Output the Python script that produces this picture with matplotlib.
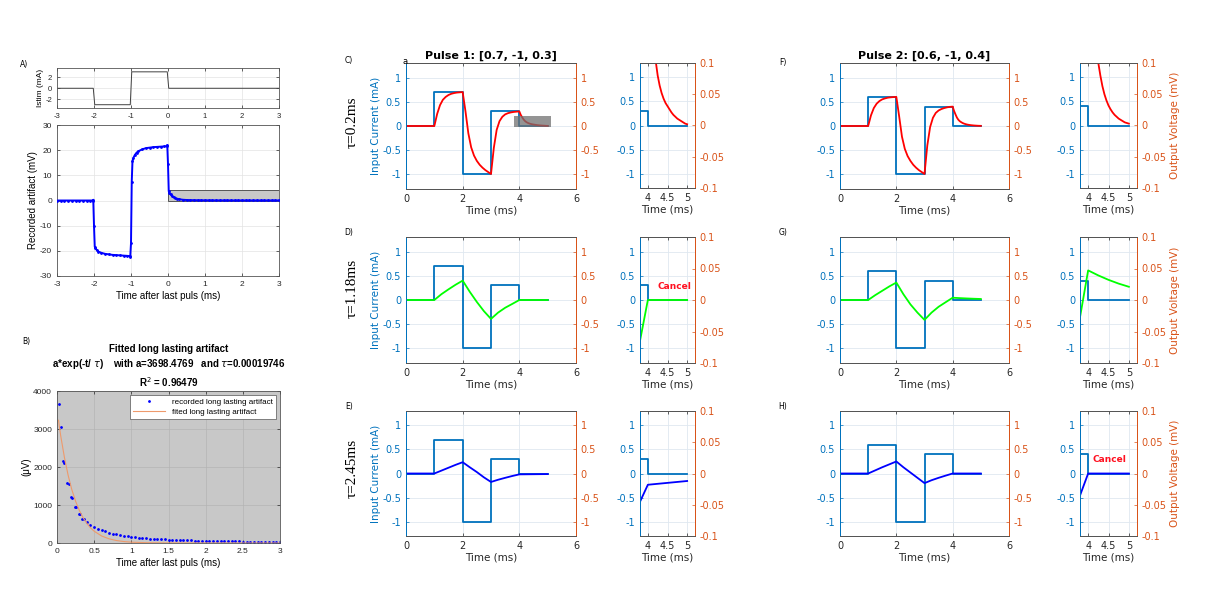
import matplotlib
matplotlib.use("Agg")
import matplotlib.pyplot as plt
from matplotlib.patches import Rectangle
from matplotlib.ticker import FuncFormatter

plt.rcParams['axes.unicode_minus'] = False

W, H = 1219, 600
BLUE = "#0072BD"
ORANGE = "#D95319"
DARK = "#262626"

# ---- panel A : stimulus + recorded artifact ----
istim_t = [-3, -2.02, -1.98, -1.02, -0.98, -0.02, 0.02, 3]
istim_v = [0, 0, -3, -3, 3, 3, 0, 0]

art_t = [-3.0, -2.9, -2.8, -2.7, -2.6, -2.5, -2.4, -2.3, -2.2, -2.1, -2.04, -2.02,
         -2.0, -1.98, -1.96, -1.92, -1.88, -1.8, -1.7, -1.6, -1.5, -1.4, -1.3, -1.2, -1.1, -1.04, -1.02,
         -1.0, -0.98, -0.96, -0.94, -0.9, -0.85, -0.8, -0.7, -0.6, -0.5, -0.4, -0.3, -0.2, -0.1, -0.04, -0.02,
         0.0, 0.02, 0.04, 0.07, 0.1, 0.15, 0.2, 0.25, 0.3, 0.4,
         0.5, 0.6, 0.7, 0.8, 0.9, 1.0, 1.1, 1.2, 1.3, 1.4, 1.5, 1.6, 1.7, 1.8, 1.9, 2.0,
         2.1, 2.2, 2.3, 2.4, 2.5, 2.6, 2.7, 2.8, 2.9, 3.0]
art_v = [0, 0, 0, 0, 0, 0, 0, 0, 0, 0, 0, 0.3,
         -10.0, -18.3, -19.0, -19.8, -20.3, -20.8, -21.2, -21.4, -21.6, -21.7, -21.8, -21.9, -22.0, -22.1, -22.3,
         -17.0, 7.5, 15.5, 16.8, 18.0, 19.0, 19.6, 20.3, 20.8, 21.0, 21.2, 21.3, 21.4, 21.5, 21.6, 22.0,
         14.5, 3.7, 3.0, 2.4, 1.9, 1.3, 0.95, 0.7, 0.5, 0.3,
         0.2, 0.15, 0.12, 0.1, 0.08, 0.07, 0.06, 0.05, 0.05, 0.04, 0.04, 0.04, 0.03, 0.03, 0.03, 0.03,
         0.03, 0.02, 0.02, 0.02, 0.02, 0.02, 0.02, 0.02, 0.02, 0.02]

# ---- panel B : long lasting artifact (uV) and its fit ----
rec_t = [0.027, 0.053, 0.08, 0.1, 0.133, 0.155, 0.186, 0.208, 0.24, 0.26, 0.29, 0.31, 0.34, 0.36,
         0.4, 0.45, 0.5, 0.55, 0.6, 0.65, 0.7, 0.75, 0.8, 0.85, 0.9, 0.95, 1.0,
         1.05, 1.1, 1.15, 1.2, 1.25, 1.3, 1.35, 1.4, 1.45, 1.5, 1.55, 1.6, 1.65, 1.7,
         1.75, 1.8, 1.85, 1.9, 1.95, 2.0, 2.05, 2.1, 2.15, 2.2, 2.25, 2.3, 2.35, 2.4,
         2.45, 2.5, 2.55, 2.6, 2.65, 2.7, 2.75, 2.8, 2.85, 2.9, 2.95, 3.0]
rec_v = [3650, 3063, 2153, 2118, 1575, 1558, 1208, 1190, 954, 936, 770, 761, 639, 620,
         540, 470, 420, 375, 340, 305, 275, 250, 228, 210, 193, 178, 165,
         153, 143, 134, 126, 118, 111, 105, 99, 94, 89, 85, 81, 77, 73,
         70, 67, 64, 61, 58, 56, 54, 52, 50, 48, 46, 44, 43, 41,
         40, 38, 37, 36, 35, 34, 33, 32, 31, 30, 29, 28]
fit_t = [0.02, 0.05, 0.1, 0.15, 0.2, 0.25, 0.3, 0.35, 0.4, 0.45, 0.5, 0.6, 0.7, 0.8,
         0.9, 1.0, 1.2, 1.4, 1.7, 2.0, 3.0]
fit_v = [3230, 2820, 2250, 1780, 1400, 1100, 860, 670, 520, 400, 310, 185, 110, 65,
         38, 22, 8, 3, 1, 0, 0]

# ---- panels C-H : input pulses and simulated output ----
pulse_t = [0, 1, 1, 2, 2, 3, 3, 4, 4, 5]
pulse1 = [0, 0, 0.7, 0.7, -1, -1, 0.3, 0.3, 0, 0]
pulse2 = [0, 0, 0.6, 0.6, -1, -1, 0.4, 0.4, 0, 0]

fast_t = [0, 1, 1.1, 1.2, 1.3, 1.4, 1.5, 1.6, 1.7, 1.8, 1.9, 2.0,
          2.1, 2.2, 2.3, 2.4, 2.5, 2.6, 2.7, 2.8, 2.9, 3.0,
          3.1, 3.2, 3.3, 3.4, 3.5, 3.6, 3.7, 3.8, 3.9, 4.0,
          4.05, 4.1, 4.15, 4.2, 4.25, 4.3, 4.35, 4.4, 4.45, 4.5,
          4.55, 4.6, 4.65, 4.7, 4.75, 4.8, 4.85, 4.9, 4.95, 5.0]
out_c = [0, 0, 0.25, 0.43, 0.54, 0.6, 0.64, 0.665, 0.68, 0.69, 0.695, 0.7,
         0.3, -0.15, -0.44, -0.61, -0.72, -0.8, -0.86, -0.91, -0.95, -0.99,
         -0.45, -0.08, 0.1, 0.19, 0.24, 0.265, 0.28, 0.29, 0.296, 0.3,
         0.23, 0.18, 0.135, 0.103, 0.08, 0.064, 0.052, 0.043, 0.036, 0.031,
         0.026, 0.021, 0.017, 0.014, 0.011, 0.009, 0.007, 0.005, 0.003, 0.002]
out_f = [0, 0, 0.22, 0.37, 0.46, 0.515, 0.55, 0.57, 0.585, 0.592, 0.597, 0.6,
         0.2, -0.22, -0.47, -0.62, -0.72, -0.8, -0.86, -0.91, -0.95, -0.99,
         -0.4, -0.02, 0.17, 0.27, 0.32, 0.35, 0.37, 0.385, 0.395, 0.4,
         0.31, 0.24, 0.175, 0.13, 0.1, 0.08, 0.063, 0.05, 0.04, 0.032,
         0.026, 0.021, 0.017, 0.014, 0.011, 0.009, 0.007, 0.005, 0.004, 0.003]

slow_t = [0, 1, 1.25, 1.5, 1.75, 2, 2.25, 2.5, 2.75, 3, 3.25, 3.5, 3.75, 4, 4.25, 4.5, 4.75, 5]
out_d = [0, 0, 0.12, 0.22, 0.315, 0.4, 0.17, -0.04, -0.23, -0.39, -0.26, -0.16, -0.081, 0, 0, 0, 0, 0]
out_e = [0, 0, 0.06, 0.12, 0.18, 0.235, 0.13, 0.03, -0.08, -0.176, -0.13, -0.09, -0.052, -0.018,
         -0.0165, -0.015, -0.0135, -0.012]
out_g = [0, 0, 0.1, 0.19, 0.28, 0.36, 0.12, -0.09, -0.26, -0.41, -0.26, -0.14, -0.046, 0.047,
         0.039, 0.032, 0.026, 0.021]
out_h = [0, 0, 0.065, 0.13, 0.19, 0.25, 0.13, 0.02, -0.09, -0.2, -0.14, -0.09, -0.044, 0, 0, 0, 0, 0]

gfmt = FuncFormatter(lambda v, p: f"{v:g}")


def rect(x0, y0, x1, y1):
    # pixel box -> figure fraction
    return [x0 / W, 1 - y1 / H, (x1 - x0) / W, (y1 - y0) / H]


def ftext(x, y, s, **kw):
    fig.text(x / W, 1 - y / H, s, **kw)


def matlab_style(ax, fs=6, family="Liberation Sans"):
    ax.tick_params(direction="in", labelsize=fs, colors=DARK, top=True, right=True,
                   length=2.5, width=0.5)
    for s in ax.spines.values():
        s.set_color("#555555")
        s.set_linewidth(0.6)
    ax.grid(True, color="#e3e3e3", linewidth=0.5)
    ax.set_axisbelow(True)
    ax.xaxis.set_major_formatter(gfmt)
    ax.yaxis.set_major_formatter(gfmt)
    for lab in ax.get_xticklabels() + ax.get_yticklabels():
        lab.set_family(family)


def yy_axes(box, xlim, xticks, rlim, rticks, fs=7):
    ax = fig.add_axes(rect(*box))
    ax2 = ax.twinx()
    ax.set_xlim(*xlim)
    ax.set_xticks(xticks)
    ax.set_ylim(-1.3, 1.3)
    ax.set_yticks([-1, -0.5, 0, 0.5, 1])
    ax2.set_ylim(*rlim)
    ax2.set_yticks(rticks)
    for a in (ax, ax2):
        a.spines["top"].set_color("#555555")
        a.spines["bottom"].set_color("#555555")
        a.spines["left"].set_color(BLUE)
        a.spines["right"].set_color(ORANGE)
        for s in a.spines.values():
            s.set_linewidth(0.7)
        a.yaxis.set_major_formatter(gfmt)
    ax.xaxis.set_major_formatter(gfmt)
    ax.tick_params(axis="x", direction="in", colors=DARK, top=True, labelsize=fs, length=2.5, width=0.5)
    ax.tick_params(axis="y", direction="in", colors=BLUE, labelsize=fs, length=2.5, width=0.5)
    ax2.tick_params(axis="y", direction="in", colors=ORANGE, labelsize=fs, length=2.5, width=0.5)
    ax.grid(True, color="#dfe8f0", linewidth=0.6)
    ax.set_axisbelow(True)
    ax.set_xlabel("Time (ms)", fontsize=7.5, color=DARK, labelpad=1)
    return ax, ax2


def draw_pair(main_box, small_box, pulse, out_t, out_v, colour, left_label, right_label, title=None):
    ax, ax2 = yy_axes(main_box, (0, 6), [0, 2, 4, 6], (-1.3, 1.3), [-1, -0.5, 0, 0.5, 1])
    ax.plot(pulse_t, pulse, color=BLUE, lw=1.3)
    ax2.plot(out_t, out_v, color=colour, lw=1.3)
    if left_label:
        ax.set_ylabel("Input Current (mA)", color=BLUE, fontsize=7.5, labelpad=1)
    if title:
        ax.set_title(title, fontsize=8, fontweight="bold", pad=3)

    sx, sx2 = yy_axes(small_box, (3.8, 5.2), [4, 4.5, 5], (-0.1, 0.1), [-0.1, -0.05, 0, 0.05, 0.1])
    sx.plot(pulse_t, pulse, color=BLUE, lw=1.3)
    sx2.plot(out_t, out_v, color=colour, lw=1.3)
    if right_label:
        sx2.set_ylabel("Output Voltage (mV)", color=ORANGE, fontsize=7.5, labelpad=2)
    return ax, ax2, sx, sx2


fig = plt.figure(figsize=(W / 100, H / 100), dpi=100)

# ---- A ----
ax_i = fig.add_axes(rect(57, 68, 279, 108))
ax_i.plot(istim_t, istim_v, color="#404040", lw=0.7)
ax_i.set_xlim(-3, 3)
ax_i.set_ylim(-3.6, 3.7)
ax_i.set_xticks(range(-3, 4))
ax_i.set_yticks([-2, 0, 2])
ax_i.set_ylabel("Istim (mA)", fontsize=6, family="Liberation Sans", labelpad=1)
matlab_style(ax_i, 5.5)

ax_a = fig.add_axes(rect(57, 125, 279, 276))
ax_a.add_patch(Rectangle((0, 0), 3, 4, facecolor="#c8c8c8", edgecolor="#555555", lw=0.7, zorder=2))
ax_a.plot(art_t, art_v, color="#0000FF", lw=1.4, marker=".", ms=2, zorder=3)
ax_a.set_xlim(-3, 3)
ax_a.set_ylim(-30, 30)
ax_a.set_xticks(range(-3, 4))
ax_a.set_yticks(range(-30, 31, 10))
ax_a.set_xlabel("Time after last puls (ms)", fontsize=7, family="Liberation Sans", labelpad=2)
ax_a.set_ylabel("Recorded artifact (mV)", fontsize=7, family="Liberation Sans", labelpad=1)
matlab_style(ax_a, 6)

# ---- B ----
ax_b = fig.add_axes(rect(57, 391, 280, 543))
ax_b.set_facecolor("#c8c8c8")
ax_b.plot(rec_t, rec_v, ".", color="#0000FF", ms=2, label="recorded long lasting artifact")
ax_b.plot(fit_t, fit_v, color="#EE9A6C", lw=0.8, label="fited long lasting artifact")
ax_b.set_xlim(0, 3)
ax_b.set_ylim(0, 4000)
ax_b.set_xticks([0, 0.5, 1, 1.5, 2, 2.5, 3])
ax_b.set_yticks(range(0, 4001, 1000))
ax_b.set_xlabel("Time after last puls (ms)", fontsize=7, family="Liberation Sans", labelpad=2)
ax_b.set_ylabel("(μV)", fontsize=7, family="Liberation Sans", labelpad=1)
ax_b.set_title("Fitted long lasting artifact\n"
               "a*exp(-t/ $\\tau$)    with a=3698.4769   and $\\tau$=0.00019746\n"
               "R$^2$ = 0.96479",
               fontsize=7, fontweight="bold", family="Liberation Sans", pad=3, linespacing=1.3)
matlab_style(ax_b, 6)
ax_b.grid(True, color="#b4b4b4", linewidth=0.5)
leg = ax_b.legend(loc="upper right", framealpha=1, edgecolor="#555555",
                  fancybox=False, handlelength=4, borderpad=0.4, labelspacing=0.3,
                  prop={"family": "Liberation Sans", "size": 5.8})
leg.get_frame().set_linewidth(0.5)

ftext(20, 65, "A)", fontsize=5.5, va="center")
ftext(22, 342, "B)", fontsize=5.5, va="center")

# ---- C-H ----
axc, axc2, sc, sc2 = draw_pair((406, 63, 576, 189), (640, 63, 695, 188), pulse1, fast_t, out_c,
                               "#FF0000", True, False, "Pulse 1: [0.7, -1, 0.3]")
axc2.add_patch(Rectangle((3.8, -0.02), 1.3, 0.23, facecolor="#707070", alpha=0.75,
                         edgecolor="none", zorder=5))
draw_pair((406, 237, 576, 363), (640, 237, 695, 363), pulse1, slow_t, out_d, "#00FF00", True, False)
draw_pair((406, 411, 576, 536), (640, 411, 695, 536), pulse1, slow_t, out_e, "#0000FF", True, False)
draw_pair((840, 63, 1009, 189), (1080, 63, 1137, 188), pulse2, fast_t, out_f,
          "#FF0000", False, True, "Pulse 2: [0.6, -1, 0.4]")
draw_pair((840, 237, 1009, 363), (1080, 237, 1137, 363), pulse2, slow_t, out_g, "#00FF00", False, True)
draw_pair((840, 411, 1009, 536), (1080, 411, 1137, 536), pulse2, slow_t, out_h, "#0000FF", False, True)

# cancel marks
ftext(674, 287, "Cancel", color="#FF1020", fontsize=6.5, fontweight="bold", ha="center", va="center")
ftext(1109, 459, "Cancel", color="#FF1020", fontsize=6.5, fontweight="bold", ha="center", va="center")

# panel letters
for x, y, s in [(349, 61, "C)"), (349, 233, "D)"), (349, 407, "E)"),
                (783, 62, "F)"), (783, 233, "G)"), (783, 407, "H)")]:
    ftext(x, y, s, fontsize=5.5, va="center", ha="center")
ftext(405, 62, "a", fontsize=6, va="center", ha="center")

# time constants
serif = ["Liberation Serif", "DejaVu Serif"]
ftext(352, 122, "τ=0.2ms", rotation=90, fontsize=11, family=serif, ha="center", va="center")
ftext(352, 288, "τ=1.18ms", rotation=90, fontsize=11, family=serif, ha="center", va="center")
ftext(352, 468, "τ=2.45ms", rotation=90, fontsize=11, family=serif, ha="center", va="center")

fig.savefig("out.png", dpi=100)
